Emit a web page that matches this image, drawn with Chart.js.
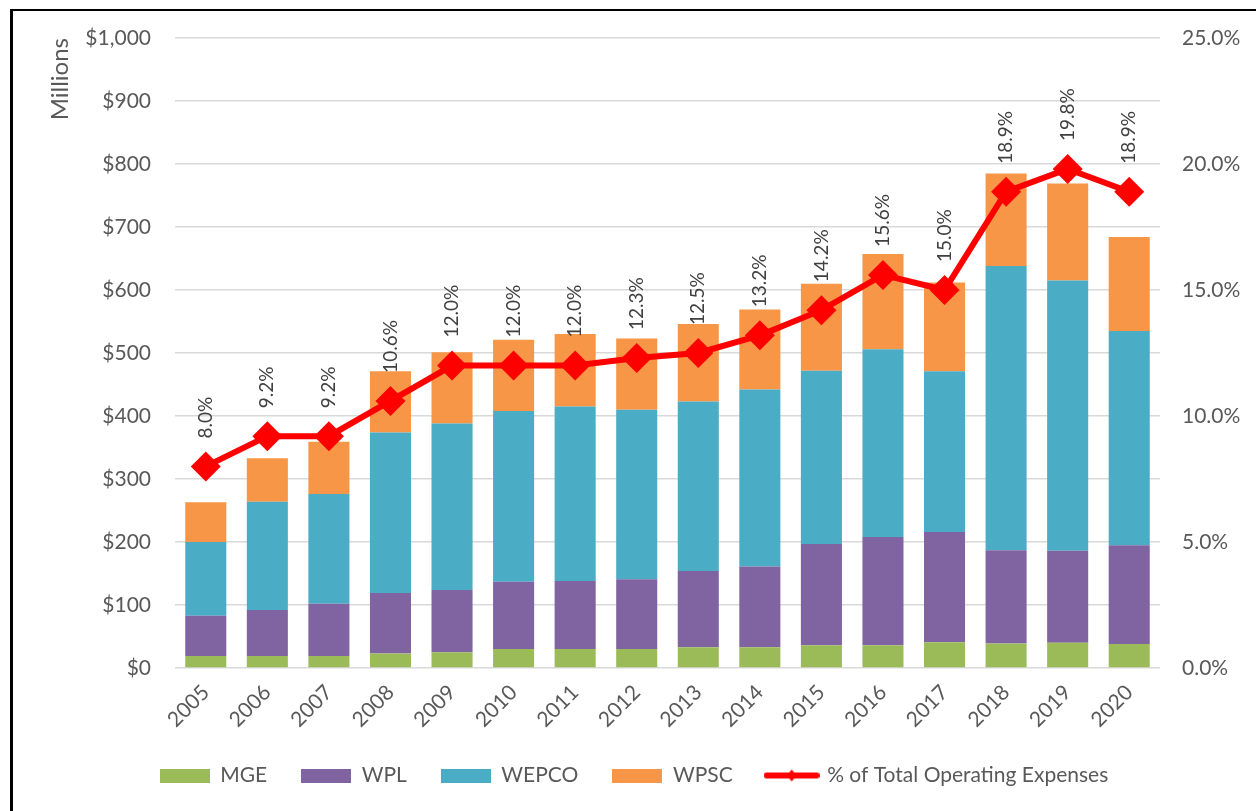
<!DOCTYPE html>
<html><head><meta charset="utf-8">
<script src="https://cdn.jsdelivr.net/npm/chart.js@4.4.1/dist/chart.umd.min.js"></script>
<style>
html,body{margin:0;padding:0;background:#fff;}
#wrap{position:relative;width:1256px;height:811px;overflow:hidden;}
#frame{position:absolute;left:10px;top:9px;width:1400px;height:900px;border-left:3px solid #000;border-top:2px solid #000;}
#c{position:absolute;left:0;top:0;}
</style></head><body>
<div id="wrap"><div id="frame"></div><canvas id="c" width="1256" height="811"></canvas></div>
<script>
const years = ['2005','2006','2007','2008','2009','2010','2011','2012','2013','2014','2015','2016','2017','2018','2019','2020'];
const mge   = [19, 19, 19, 23, 25, 30, 30, 30, 33, 33, 36, 36, 41, 39, 40, 38];
const wpl   = [64, 73, 83, 96, 99, 107, 108, 111, 121, 128, 161, 172, 175, 148, 146, 157];
const wepco = [117, 172, 174, 255, 264, 271, 277, 269, 269, 281, 275, 298, 255, 451, 429, 340];
const wpsc  = [63, 69, 83, 97, 113, 113, 115, 113, 123, 127, 138, 151, 141, 147, 154, 149];
const pctOfOpEx = [8.0, 9.2, 9.2, 10.6, 12.0, 12.0, 12.0, 12.3, 12.5, 13.2, 14.2, 15.6, 15.0, 18.9, 19.8, 18.9];
const seriesNames = ['MGE', 'WPL', 'WEPCO', 'WPSC', '% of Total Operating Expenses'];
const colors = ['#9BBB59', '#8064A2', '#4BACC6', '#F79646', '#FF0000'];

const FONT = 'Lato';
const TXT = '#595959';

function boxSwatch(color){
  const c = document.createElement('canvas'); c.width = 50; c.height = 14;
  const g = c.getContext('2d'); g.fillStyle = color; g.fillRect(0,0,50,14); return c;
}
function lineSwatch(color){
  const c = document.createElement('canvas'); c.width = 56; c.height = 14;
  const g = c.getContext('2d');
  g.strokeStyle = color; g.lineWidth = 6; g.lineCap = 'round';
  g.beginPath(); g.moveTo(3,7); g.lineTo(53,7); g.stroke();
  g.fillStyle = color; g.beginPath(); g.moveTo(28,1); g.lineTo(33,7); g.lineTo(28,13); g.lineTo(23,7); g.closePath(); g.fill();
  return c;
}

const pctLabels = {
  id: 'pctLabels',
  afterDatasetsDraw(chart){
    const meta = chart.getDatasetMeta(4);
    const ctx = chart.ctx;
    ctx.save();
    ctx.font = '19px ' + FONT;
    ctx.fillStyle = '#404040';
    ctx.textAlign = 'left';
    ctx.textBaseline = 'middle';
    meta.data.forEach((pt, i) => {
      ctx.save();
      ctx.translate(pt.x, pt.y - 28);
      ctx.rotate(-Math.PI/2);
      ctx.fillText(pctOfOpEx[i].toFixed(1) + '%', 0, 0);
      ctx.restore();
    });
    ctx.restore();
  }
};

const barSets = [mge, wpl, wepco, wpsc].map((d, i) => ({
  type: 'bar', label: seriesNames[i], data: d, backgroundColor: colors[i],
  borderWidth: 0, yAxisID: 'y', stack: 's', order: 1,
  barPercentage: 0.667, categoryPercentage: 1.0
}));

new Chart(document.getElementById('c'), {
  data: {
    labels: years,
    datasets: [...barSets, {
      type: 'line', label: seriesNames[4], data: pctOfOpEx, yAxisID: 'y1', order: 0,
      borderColor: colors[4], backgroundColor: colors[4], borderWidth: 6,
      pointStyle: 'rectRot', pointRadius: 15, pointHoverRadius: 15, pointBorderWidth: 0,
      tension: 0
    }]
  },
  options: {
    responsive: false, animation: false,
    layout: { padding: { left: 12, top: 38, right: 0, bottom: 15 } },
    plugins: {
      tooltip: { enabled: false },
      legend: {
        position: 'bottom', align: 'center',
        labels: {
          usePointStyle: true, pointStyleWidth: 50, boxHeight: 14,
          padding: 34, color: TXT, font: { family: FONT, size: 21 },
          generateLabels(chart){
            return chart.data.datasets.map((ds, i) => ({
              text: ds.label, datasetIndex: i, hidden: false,
              fillStyle: colors[i], strokeStyle: 'rgba(0,0,0,0)', lineWidth: 0, fontColor: TXT,
              pointStyle: i === 4 ? lineSwatch(colors[i]) : boxSwatch(colors[i])
            }));
          }
        }
      }
    },
    scales: {
      x: {
        grid: { display: false }, border: { display: false },
        ticks: { color: TXT, font: { family: FONT, size: 21 }, minRotation: 45, maxRotation: 45, autoSkip: false, padding: 4 },
        afterFit(s){ s.height = 63; }
      },
      y: {
        position: 'left', stacked: true, min: 0, max: 1000,
        ticks: { stepSize: 100, color: TXT, font: { family: FONT, size: 21 }, padding: 24,
          callback: v => '$' + v.toLocaleString('en-US') },
        grid: { color: '#d9d9d9', lineWidth: 1.5, drawTicks: false },
        border: { display: false },
        title: { display: true, text: 'Millions', align: 'end', color: TXT, font: { family: FONT, size: 24 }, padding: { top: 34, bottom: 0 } },
        afterFit(s){ s.width = 163; }
      },
      y1: {
        position: 'right', min: 0, max: 25,
        ticks: { stepSize: 5, color: TXT, font: { family: FONT, size: 21 }, padding: 22,
          callback: v => v.toFixed(1) + '%' },
        grid: { display: false, drawTicks: false },
        border: { display: false },
        afterFit(s){ s.width = 96; }
      }
    }
  },
  plugins: [pctLabels]
});
</script>
</body></html>
